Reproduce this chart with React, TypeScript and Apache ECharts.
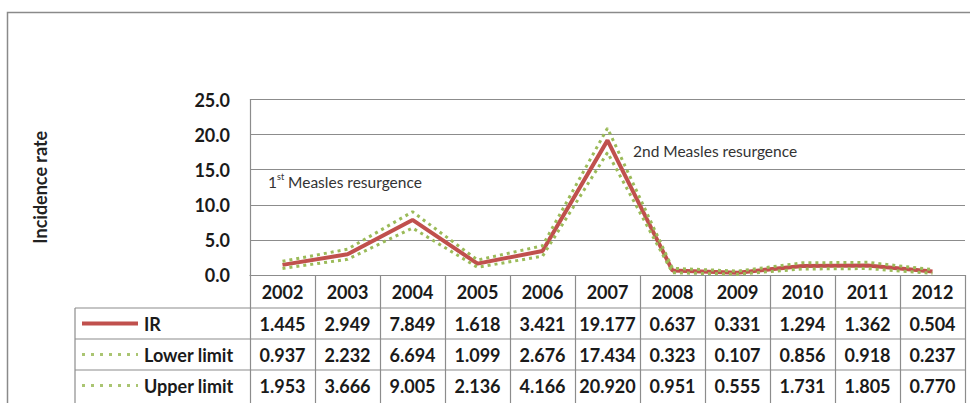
import React, { useEffect, useRef } from "react";
import * as echarts from "echarts";

const years = ["2002", "2003", "2004", "2005", "2006", "2007", "2008", "2009", "2010", "2011", "2012"];
const irValues = [1.445, 2.949, 7.849, 1.618, 3.421, 19.177, 0.637, 0.331, 1.294, 1.362, 0.504];
const lowerLimit = [0.937, 2.232, 6.694, 1.099, 2.676, 17.434, 0.323, 0.107, 0.856, 0.918, 0.237];
const upperLimit = [1.953, 3.666, 9.005, 2.136, 4.166, 20.92, 0.951, 0.555, 1.731, 1.805, 0.77];
const seriesNames = ["IR", "Lower limit", "Upper limit"];
const yMin = 0;
const yMax = 25;
const yInterval = 5;

const RED = "#C0504D";
const GREEN = "#9BBB59";
const GRID_COLOR = "#8c8c8c";
const FONT = "Lato, 'Open Sans', sans-serif";

const GRID_LEFT = 250;
const GRID_RIGHT_X = 965;
const GRID_TOP = 99.5;
const GRID_BOTTOM_Y = 275;
const HEADER_H = 33;
const ROW_H = 31;
const TABLE_LEFT = 75;

export default function App() {
  const ref = useRef<HTMLDivElement>(null);

  useEffect(() => {
    if (!ref.current) return;
    const chart = echarts.init(ref.current, null, { renderer: "svg" });
    const colW = (GRID_RIGHT_X - GRID_LEFT) / years.length;
    const rows = [
      { name: seriesNames[0], values: irValues, color: RED, dash: null as null | number[] },
      { name: seriesNames[1], values: lowerLimit, color: GREEN, dash: [3, 6] },
      { name: seriesNames[2], values: upperLimit, color: GREEN, dash: [3, 6] },
    ];
    const graphics: any[] = [];
    graphics.push({
      type: "rect",
      shape: { x: 7.5, y: 12.5, width: 980, height: 420 },
      style: { fill: "none", stroke: "#8a8a8a", lineWidth: 1.5 },
      silent: true,
    });
    const firstRowTop = GRID_BOTTOM_Y + HEADER_H;
    rows.forEach((row, r) => {
      const top = firstRowTop + r * ROW_H;
      const cy = top + ROW_H / 2;
      graphics.push({
        type: "line",
        shape: { x1: TABLE_LEFT, y1: top, x2: GRID_RIGHT_X, y2: top },
        style: { stroke: GRID_COLOR, lineWidth: 1.2 },
      });
      graphics.push({
        type: "line",
        shape: { x1: 82, y1: cy, x2: 138, y2: cy },
        style: row.dash
          ? { stroke: row.color, lineWidth: 3, lineDash: row.dash, opacity: 0.85 }
          : { stroke: row.color, lineWidth: 4 },
      });
      graphics.push({
        type: "text",
        x: 144,
        y: cy,
        style: {
          text: row.name,
          font: `bold 18px ${FONT}`,
          fill: "#1a1a1a",
          verticalAlign: "middle",
          textAlign: "left",
        },
      });
      row.values.forEach((v, i) => {
        graphics.push({
          type: "text",
          x: GRID_LEFT + (i + 0.5) * colW,
          y: cy,
          style: {
            text: v.toFixed(3),
            font: `bold 18px ${FONT}`,
            fill: "#1a1a1a",
            textAlign: "center",
            verticalAlign: "middle",
          },
        });
      });
    });
    graphics.push({
      type: "line",
      shape: { x1: TABLE_LEFT, y1: firstRowTop, x2: TABLE_LEFT, y2: 420 },
      style: { stroke: GRID_COLOR, lineWidth: 1.2 },
    });
    graphics.push({
      type: "text",
      x: 268,
      y: 182,
      style: {
        text: "{a|1}{b|st}{a| Measles resurgence}",
        verticalAlign: "middle",
        rich: {
          a: { fontSize: 15.5, fontFamily: FONT, fill: "#333", lineHeight: 20 },
          b: { fontSize: 9, fontFamily: FONT, fill: "#333", lineHeight: 20, verticalAlign: "top", padding: [0, 0, 8, 0] },
        },
      },
    });
    graphics.push({
      type: "text",
      x: 633,
      y: 151,
      style: {
        text: "2nd Measles resurgence",
        font: `15.5px ${FONT}`,
        fill: "#333",
        verticalAlign: "middle",
      },
    });

    const option: any = {
      animation: false,
      grid: {
        left: GRID_LEFT,
        top: GRID_TOP,
        width: GRID_RIGHT_X - GRID_LEFT,
        height: GRID_BOTTOM_Y - GRID_TOP,
        containLabel: false,
      },
      xAxis: {
        type: "category",
        data: years,
        boundaryGap: true,
        axisLine: { show: true, lineStyle: { color: GRID_COLOR, width: 1.2 } },
        axisTick: { show: true, length: 140, lineStyle: { color: GRID_COLOR, width: 1.2 } },
        axisLabel: {
          margin: 0,
          lineHeight: HEADER_H,
          fontFamily: FONT,
          fontSize: 18,
          fontWeight: "bold",
          color: "#1a1a1a",
        },
        splitLine: { show: false },
      },
      yAxis: {
        type: "value",
        min: yMin,
        max: yMax,
        interval: yInterval,
        name: "Incidence rate",
        nameLocation: "middle",
        nameRotate: 90,
        nameGap: 210,
        nameTextStyle: { fontFamily: FONT, fontSize: 18, fontWeight: "bold", color: "#222", verticalAlign: "middle" },
        axisLine: { show: true, lineStyle: { color: GRID_COLOR, width: 1.2 } },
        axisTick: { show: false },
        axisLabel: {
          margin: 20,
          fontFamily: FONT,
          fontSize: 18,
          fontWeight: "bold",
          color: "#1a1a1a",
          formatter: (v: number) => v.toFixed(1),
        },
        splitLine: { show: true, lineStyle: { color: GRID_COLOR, width: 1.2 } },
      },
      series: [
        {
          name: seriesNames[0],
          type: "line",
          data: irValues,
          symbol: "none",
          lineStyle: { color: RED, width: 4 },
          z: 2,
        },
        {
          name: seriesNames[1],
          type: "line",
          data: lowerLimit,
          symbol: "none",
          lineStyle: { color: GREEN, width: 3, type: [3, 4] },
          z: 3,
        },
        {
          name: seriesNames[2],
          type: "line",
          data: upperLimit,
          symbol: "none",
          lineStyle: { color: GREEN, width: 3, type: [3, 4] },
          z: 3,
        },
      ],
      graphic: graphics,
    };
    chart.setOption(option);
    return () => chart.dispose();
  }, []);

  return (
    <div
      ref={ref}
      style={{ position: "fixed", left: 0, top: 0, width: 970, height: 403, background: "#fff" }}
    />
  );
}
